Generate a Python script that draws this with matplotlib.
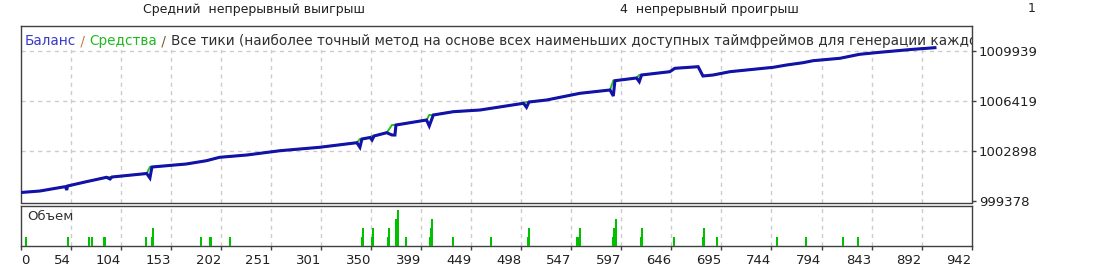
import numpy as np
import matplotlib
matplotlib.use("Agg")
import matplotlib.pyplot as plt
from matplotlib.patches import Rectangle

plt.rcParams['font.family'] = ['DejaVu Sans']

# ---------------- data ----------------
bal_x = [0, 19, 42, 44.4, 45.6, 46.4, 65, 85, 88.5, 90.4, 124.8, 128, 130, 164, 184, 197, 224,
         257, 296, 333, 336, 338, 346, 348, 350, 362.5, 367.8, 370.7, 371.7, 402, 404.7, 408.7,
         428.5, 455, 498, 501, 503.5, 521, 554, 583.7, 587, 588.6, 610, 612.7, 615, 643, 648,
         671, 675.8, 686, 702.5, 745.5, 758.7, 775, 785, 811.5, 831, 851, 884, 905.6]
balance = [999976, 1000082, 1000364, 1000385, 1000153, 1000434, 1000737, 1001047, 1000927,
           1001068, 1001314, 1000997, 1001772, 1001983, 1002216, 1002455, 1002617, 1002920,
           1003159, 1003483, 1003159, 1003743, 1003849, 1003673, 1003955, 1004187, 1004025,
           1004025, 1004729, 1005081, 1004659, 1005433, 1005666, 1005785, 1006257, 1005975,
           1006349, 1006490, 1006961, 1007194, 1006771, 1007849, 1008039, 1007778, 1008250,
           1008482, 1008721, 1008834, 1008179, 1008250, 1008482, 1008792, 1008954, 1009116,
           1009257, 1009426, 1009707, 1009848, 1010059, 1010172]
equity = [999976, 1000082, 1000364, 1000385, 1000434, 1000434, 1000737, 1001047, 1001068,
          1001068, 1001314, 1001772, 1001772, 1001983, 1002216, 1002455, 1002617, 1002920,
          1003159, 1003483, 1003743, 1003743, 1003849, 1003955, 1003955, 1004187, 1004729,
          1004729, 1004729, 1005081, 1005433, 1005433, 1005666, 1005785, 1006257, 1006349,
          1006349, 1006490, 1006961, 1007194, 1007849, 1007849, 1008039, 1008250, 1008250,
          1008482, 1008721, 1008834, 1008179, 1008250, 1008482, 1008792, 1008954, 1009116,
          1009257, 1009426, 1009707, 1009848, 1010059, 1010172]

vol_x = [5, 47, 68, 71, 83, 124, 130, 131, 179, 188, 207, 338, 339, 348, 349, 363.5, 365, 372,
         374, 382, 405, 406, 407, 428, 465.5, 502.5, 503.5, 551, 552, 554, 587, 588, 589.5,
         614, 615, 647.5, 675.5, 677, 689.5, 749, 777.5, 814.5, 829.5]
vol_h = [1, 1, 1, 1, 1, 1, 1, 2, 1, 1, 1, 1, 2, 1, 2, 1, 2, 3,
         4, 1, 1, 2, 3, 1, 1, 1, 2, 1, 1, 2, 1, 2, 3,
         1, 2, 1, 1, 2, 1, 1, 1, 1, 1]

x_tick_labels = ['0', '54', '104', '153', '202', '251', '301', '350', '399', '449', '498',
                 '547', '597', '646', '695', '744', '794', '843', '892', '942']
y_ticks = [999378, 1002898, 1006419, 1009939]
y_tick_labels = ['999378', '1002898', '1006419', '1009939']

header_texts = ['Средний  непрерывный выигрыш', '4  непрерывный проигрыш', '1']
title_parts = [('Баланс', '#3a3ac8'), (' / ', '#c08040'), ('Средства', '#22b822'),
               (' / ', '#7a5a30'),
               ('Все тики (наиболее точный метод на основе всех наименьших доступных таймфреймов для генерации каждого тика)', '#303030')]
vol_label = 'Объем'

# ---------------- figure ----------------
W, H = 1096, 269
fig = plt.figure(figsize=(W / 100, H / 100), dpi=100)
fig.patch.set_facecolor('white')

def fx(px):
    return px / W

def fy(py):
    return 1 - py / H

left, right = 20.7, 971.7
ax = fig.add_axes([fx(left), fy(202.5), fx(right - left), (202.5 - 26) / H])
axv = fig.add_axes([fx(left), fy(246), fx(right - left), (246 - 205.5) / H])

xmax = 942
xt = np.linspace(0, xmax, len(x_tick_labels))
grid_kw = dict(color='#cccccc', linestyle=(0, (3, 3)), linewidth=1.0)

# main panel
ax.set_xlim(0, xmax)
ax.set_ylim(999378 - 105, 1011699)
for v in xt[1:-1]:
    ax.axvline(v, zorder=1, **grid_kw)
for v in y_ticks[1:]:
    ax.axhline(v, zorder=1, **grid_kw)
ax.add_patch(Rectangle((0, 0.862), 1, 0.14, transform=ax.transAxes, facecolor='white',
                       edgecolor='none', zorder=2))
ax.plot(bal_x, equity, color='#22c022', lw=1.4, zorder=3, solid_joinstyle='miter')
ax.plot(bal_x, balance, color='#1212a8', lw=2.2, zorder=4, solid_joinstyle='miter')
ax.set_xticks([])
ax.yaxis.tick_right()
ax.set_yticks(y_ticks)
ax.set_yticklabels(y_tick_labels)
ax.tick_params(axis='y', direction='out', length=3, width=1, color='#404040', pad=2,
               labelsize=9.5, labelcolor='#202020')
for s in ax.spines.values():
    s.set_color('#404040')
    s.set_linewidth(1.0)

# title (multi-coloured, clipped)
fig.canvas.draw()
renderer = fig.canvas.get_renderer()
xpos = 25
for txt, col in title_parts:
    t = ax.text(0, 0.915, txt, color=col, fontsize=9.8, va='center', ha='left',
                transform=ax.transAxes, clip_on=True, zorder=5)
    t.set_x((xpos - left) / (right - left))
    bb = t.get_window_extent(renderer)
    xpos += bb.width

# volume panel
axv.set_xlim(0, xmax)
axv.set_ylim(0, 4.45)
for v in xt[1:-1]:
    axv.axvline(v, zorder=1, **grid_kw)
axv.bar(vol_x, vol_h, width=2.0, color='#00c000', zorder=3, linewidth=0)
axv.set_yticks([])
axv.set_xticks(xt)
axv.set_xticklabels(x_tick_labels)
axv.tick_params(axis='x', direction='out', length=3, width=1, color='#404040', pad=3,
                labelsize=9.5, labelcolor='#202020')
for i, lab in enumerate(axv.get_xticklabels()):
    lab.set_ha('left' if i == 0 else 'right')
for s in axv.spines.values():
    s.set_color('#404040')
    s.set_linewidth(1.0)
axv.text(6.5 / (right - left), 0.73, vol_label, transform=axv.transAxes, fontsize=9.5,
         color='#303030', va='center', ha='left')

# header (cut-off table row)
fig.text(fx(254), fy(9), header_texts[0], fontsize=9, ha='center', va='center', color='#202020')
fig.text(fx(709), fy(9), header_texts[1], fontsize=9, ha='center', va='center', color='#202020')
fig.text(fx(1032), fy(9), header_texts[2], fontsize=9, ha='center', va='center', color='#202020')

fig.savefig('out.png', dpi=100, facecolor='white')
